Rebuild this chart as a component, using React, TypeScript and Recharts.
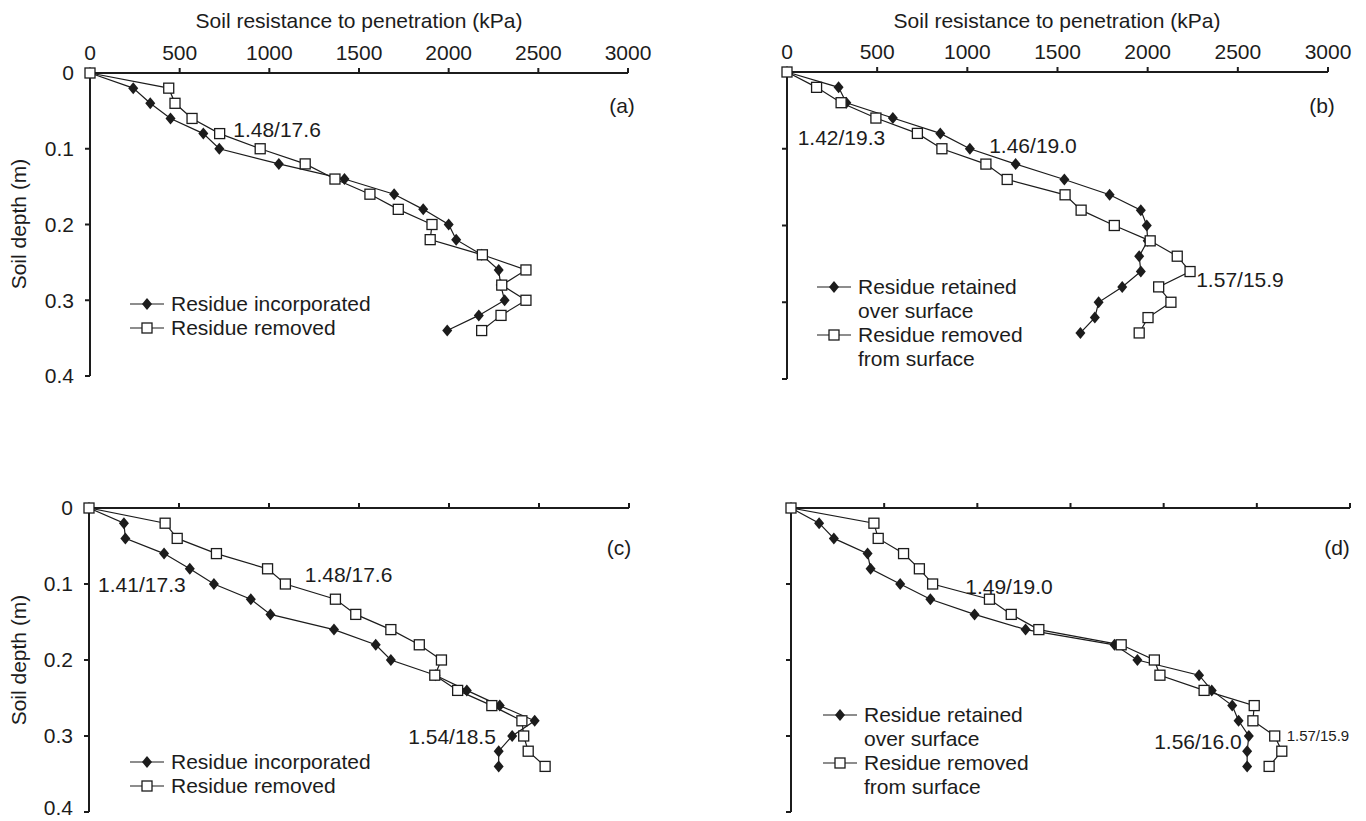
import React from "react";
import { ScatterChart, Scatter, XAxis, YAxis, Legend, ReferenceDot } from "recharts";

// ── dados ──────────────────────────────────────────────────────────────
const depths = [0, 0.02, 0.04, 0.06, 0.08, 0.1, 0.12, 0.14, 0.16, 0.18, 0.2, 0.22, 0.24, 0.26, 0.28, 0.3, 0.32, 0.34];
const xTicks = [0, 500, 1000, 1500, 2000, 2500, 3000];
const yTicks = [0, 0.1, 0.2, 0.3, 0.4];

const aIncorporated = [0, 241, 336, 449, 632, 721, 1053, 1419, 1696, 1858, 2000, 2042, 2184, 2279, 2290, 2312, 2168, 1992];
const aRemoved = [0, 439, 474, 569, 723, 949, 1200, 1366, 1561, 1719, 1907, 1897, 2188, 2431, 2296, 2431, 2292, 2184];
const bRetained = [0, 286, 329, 587, 850, 1014, 1268, 1538, 1789, 1962, 1995, 2000, 1953, 1962, 1859, 1728, 1707, 1627];
const bRemoved = [0, 164, 300, 493, 723, 859, 1103, 1221, 1542, 1631, 1815, 2014, 2164, 2235, 2061, 2129, 2002, 1953];
const cIncorporated = [0, 194, 202, 417, 560, 694, 899, 1008, 1361, 1593, 1677, 1925, 2099, 2282, 2476, 2351, 2276, 2276];
const cRemoved = [0, 423, 490, 708, 992, 1091, 1369, 1482, 1677, 1835, 1958, 1921, 2048, 2238, 2405, 2415, 2440, 2534];
const dRetained = [0, 151, 230, 411, 427, 586, 748, 985, 1259, 1736, 1859, 2190, 2258, 2368, 2402, 2457, 2448, 2448];
const dRemoved = [0, 445, 468, 604, 689, 760, 1065, 1182, 1330, 1772, 1950, 1980, 2217, 2486, 2479, 2596, 2634, 2566];

const FONT = "'Liberation Sans', Arial, Helvetica, sans-serif";
const INK = "#1c1c1c";
const FS = 21;

const toPoints = (values: number[]) => depths.map((d, i) => ({ x: values[i], y: d }));

// ── marcadores ─────────────────────────────────────────────────────────
function Diamond({ cx, cy }: any) {
  if (cx == null || cy == null) return null;
  return <path d={`M${cx},${cy - 6}L${cx + 5},${cy}L${cx},${cy + 6}L${cx - 5},${cy}Z`} fill={INK} />;
}

function Square({ cx, cy }: any) {
  if (cx == null || cy == null) return null;
  return <rect x={cx - 5} y={cy - 5} width={10} height={10} fill="#fff" stroke={INK} strokeWidth={1.3} />;
}

function LegendBox({ items }: { items: { lines: string[]; filled: boolean }[] }) {
  return (
    <div style={{ fontFamily: FONT, fontSize: FS, color: INK, lineHeight: "24px" }}>
      {items.map((it, i) => (
        <div key={i} style={{ display: "flex", alignItems: "flex-start" }}>
          <svg width={34} height={24} style={{ flex: "none" }}>
            <line x1={0} y1={12} x2={34} y2={12} stroke={INK} strokeWidth={1.2} />
            {it.filled ? <Diamond cx={17} cy={12} /> : <Square cx={17} cy={12} />}
          </svg>
          <div style={{ marginLeft: 7, whiteSpace: "nowrap" }}>
            {it.lines.map((l, j) => (
              <div key={j}>{l}</div>
            ))}
          </div>
        </div>
      ))}
    </div>
  );
}

interface Note {
  text: string;
  x: number;
  y: number;
  size?: number;
}

interface PanelProps {
  left: number;
  top: number;
  width: number;
  height: number;
  margin: { top: number; left: number; right: number; bottom: number };
  filled: number[];
  hollow: number[];
  names: string[][];
  showXLabels: boolean;
  showYLabels: boolean;
  title?: { x: number; y: number };
  yTitle?: { x: number; y: number };
  letter: { text: string; x: number; y: number };
  legendPos: { left: number; top: number };
  notes: Note[];
}

function Panel(p: PanelProps) {
  const hidden = () => "";
  return (
    <div style={{ position: "absolute", left: p.left, top: p.top, width: p.width, height: p.height }}>
      <ScatterChart width={p.width} height={p.height} margin={p.margin}>
        <XAxis
          type="number"
          dataKey="x"
          orientation="top"
          domain={[0, 3000]}
          ticks={xTicks}
          height={30}
          stroke={INK}
          strokeWidth={2}
          tickSize={5}
          tickMargin={8}
          tick={{ fill: INK, fontSize: FS, fontFamily: FONT }}
          tickFormatter={p.showXLabels ? undefined : hidden}
        />
        <YAxis
          type="number"
          dataKey="y"
          reversed
          domain={[0, 0.4]}
          ticks={yTicks}
          width={50}
          stroke={INK}
          strokeWidth={2}
          tickSize={5}
          tickMargin={11}
          tick={{ fill: INK, fontSize: FS, fontFamily: FONT }}
          tickFormatter={p.showYLabels ? (v: number) => String(v) : hidden}
        />
        <Legend
          layout="vertical"
          align="center"
          verticalAlign="middle"
          wrapperStyle={{ left: p.legendPos.left, top: p.legendPos.top, width: "auto", height: "auto" }}
          content={() => (
            <LegendBox
              items={[
                { lines: p.names[0], filled: true },
                { lines: p.names[1], filled: false },
              ]}
            />
          )}
        />
        <Scatter
          name={p.names[0].join(" ")}
          data={toPoints(p.filled)}
          line={{ stroke: INK, strokeWidth: 1.2 }}
          lineType="joint"
          shape={Diamond}
          isAnimationActive={false}
        />
        <Scatter
          name={p.names[1].join(" ")}
          data={toPoints(p.hollow)}
          line={{ stroke: INK, strokeWidth: 1.2 }}
          lineType="joint"
          shape={Square}
          isAnimationActive={false}
        />
        {p.notes.map((n, i) => (
          <ReferenceDot
            key={i}
            x={n.x}
            y={n.y}
            r={0}
            ifOverflow="visible"
            label={{ value: n.text, position: "center", fill: INK, fontSize: n.size ?? FS, fontFamily: FONT }}
          />
        ))}
      </ScatterChart>
      {p.title && (
        <div
          style={{
            position: "absolute",
            left: p.title.x,
            top: p.title.y,
            transform: "translate(-50%, -50%)",
            whiteSpace: "nowrap",
            fontFamily: FONT,
            fontSize: FS,
            color: INK,
          }}
        >
          Soil resistance to penetration (kPa)
        </div>
      )}
      {p.yTitle && (
        <div
          style={{
            position: "absolute",
            left: p.yTitle.x,
            top: p.yTitle.y,
            transform: "translate(-50%, -50%) rotate(-90deg)",
            whiteSpace: "nowrap",
            fontFamily: FONT,
            fontSize: FS,
            color: INK,
          }}
        >
          Soil depth (m)
        </div>
      )}
      <div
        style={{
          position: "absolute",
          left: p.letter.x,
          top: p.letter.y,
          transform: "translate(-50%, -50%)",
          fontFamily: FONT,
          fontSize: FS,
          color: INK,
        }}
      >
        {p.letter.text}
      </div>
    </div>
  );
}

const incorporatedNames = [["Residue incorporated"], ["Residue removed"]];
const surfaceNames = [
  ["Residue retained", "over surface"],
  ["Residue removed", "from surface"],
];

export default function App() {
  return (
    <div
      style={{
        position: "absolute",
        left: 0,
        top: 0,
        width: 1366,
        height: 821,
        background: "#fff",
        overflow: "hidden",
      }}
    >
      <Panel
        left={0}
        top={0}
        width={660}
        height={400}
        margin={{ top: 43, left: 40, right: 32, bottom: 24 }}
        filled={aIncorporated}
        hollow={aRemoved}
        names={incorporatedNames}
        showXLabels
        showYLabels
        title={{ x: 359, y: 21 }}
        yTitle={{ x: 19, y: 224 }}
        letter={{ text: "(a)", x: 622, y: 106 }}
        legendPos={{ left: 130, top: 292 }}
        notes={[{ text: "1.48/17.6", x: 1043, y: 0.075 }]}
      />
      <Panel
        left={700}
        top={0}
        width={660}
        height={400}
        margin={{ top: 42, left: 37, right: 32, bottom: 21 }}
        filled={bRetained}
        hollow={bRemoved}
        names={surfaceNames}
        showXLabels
        showYLabels={false}
        title={{ x: 357, y: 21 }}
        letter={{ text: "(b)", x: 622, y: 106 }}
        legendPos={{ left: 117, top: 275 }}
        notes={[
          { text: "1.42/19.3", x: 302, y: 0.085 },
          { text: "1.46/19.0", x: 1364, y: 0.096 },
          { text: "1.57/15.9", x: 2512, y: 0.271 },
        ]}
      />
      <Panel
        left={0}
        top={420}
        width={660}
        height={400}
        margin={{ top: 58, left: 39, right: 31, bottom: 8 }}
        filled={cIncorporated}
        hollow={cRemoved}
        names={incorporatedNames}
        showXLabels={false}
        showYLabels
        yTitle={{ x: 19, y: 240 }}
        letter={{ text: "(c)", x: 619, y: 128 }}
        legendPos={{ left: 130, top: 330 }}
        notes={[
          { text: "1.41/17.3", x: 294, y: 0.101 },
          { text: "1.48/17.6", x: 1442, y: 0.087 },
          { text: "1.54/18.5", x: 2017, y: 0.301 },
        ]}
      />
      <Panel
        left={700}
        top={420}
        width={666}
        height={400}
        margin={{ top: 58, left: 41, right: 16, bottom: 8 }}
        filled={dRetained}
        hollow={dRemoved}
        names={surfaceNames}
        showXLabels={false}
        showYLabels={false}
        letter={{ text: "(d)", x: 637, y: 128 }}
        legendPos={{ left: 123, top: 283 }}
        notes={[
          { text: "1.49/19.0", x: 1170, y: 0.103 },
          { text: "1.56/16.0", x: 2184, y: 0.307 },
          { text: "1.57/15.9", x: 2828, y: 0.299, size: 15 },
        ]}
      />
    </div>
  );
}
